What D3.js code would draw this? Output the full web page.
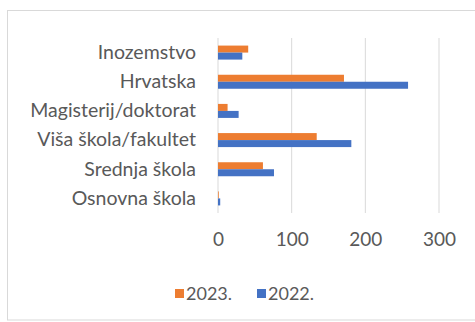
<!DOCTYPE html>
<html><head><meta charset="utf-8">
<script src="https://cdn.jsdelivr.net/npm/d3@7"></script>
<style>body{margin:0;background:#fff}svg{display:block}text{font-family:Lato,"Open Sans",sans-serif;fill:#595959}</style>
</head><body>
<svg id="c" width="475" height="322"></svg>
<script>
const categories = ["Inozemstvo","Hrvatska","Magisterij/doktorat","Viša škola/fakultet","Srednja škola","Osnovna škola"];
const values2023 = [41,171,13,134,61,1];
const values2022 = [33,258,28,181,76,3];
const seriesNames = ["2023.","2022."];
const xTicks = [0,100,200,300];
const colors = ["#ED7D31","#4472C4"];

const svg = d3.select("#c");
svg.append("rect").attr("x",7.5).attr("y",10.5).attr("width",480).attr("height",309.5)
  .attr("fill","#fff").attr("stroke","#d9d9d9");

const x = d3.scaleLinear().domain([0,300]).range([218,439]);
const y = d3.scaleBand().domain(categories).range([38,213]).paddingInner(0.52).paddingOuter(0.26);
const sub = d3.scaleBand().domain(seriesNames).range([0,y.bandwidth()]);

const grid = svg.append("g");
grid.selectAll("line").data(xTicks).join("line")
  .attr("x1",d=>x(d)).attr("x2",d=>x(d)).attr("y1",38).attr("y2",213)
  .attr("stroke","#d9d9d9").attr("stroke-width",1);

const data = [values2023, values2022];
data.forEach((vals,si)=>{
  svg.append("g").selectAll("rect").data(categories).join("rect")
    .attr("x",x(0)).attr("y",(c)=>y(c)+sub(seriesNames[si]))
    .attr("width",(c,i)=>x(vals[i])-x(0)).attr("height",sub.bandwidth())
    .attr("fill",colors[si]);
});

const yAxis = d3.axisLeft(y).tickSize(0).tickPadding(22);
const gy = svg.append("g").attr("transform",`translate(${x(0)},0)`).call(yAxis);
gy.select(".domain").remove();
gy.selectAll("text").style("font-size","19.5px").style("font-family","Lato").attr("fill","#595959");

const xAxis = d3.axisBottom(x).tickValues(xTicks).tickSize(0).tickPadding(0);
const gx = svg.append("g").attr("transform","translate(0,232)").call(xAxis);
gx.select(".domain").remove();
gx.selectAll("text").style("font-size","19px").style("font-family","Lato").attr("fill","#595959");

const leg = svg.append("g");
const legX = [175,257];
seriesNames.forEach((s,i)=>{
  leg.append("rect").attr("x",legX[i]).attr("y",289).attr("width",9).attr("height",9).attr("fill",colors[i]);
  leg.append("text").attr("x",legX[i]+11).attr("y",300).style("font-size","18px").text(s);
});
</script>
</body></html>
